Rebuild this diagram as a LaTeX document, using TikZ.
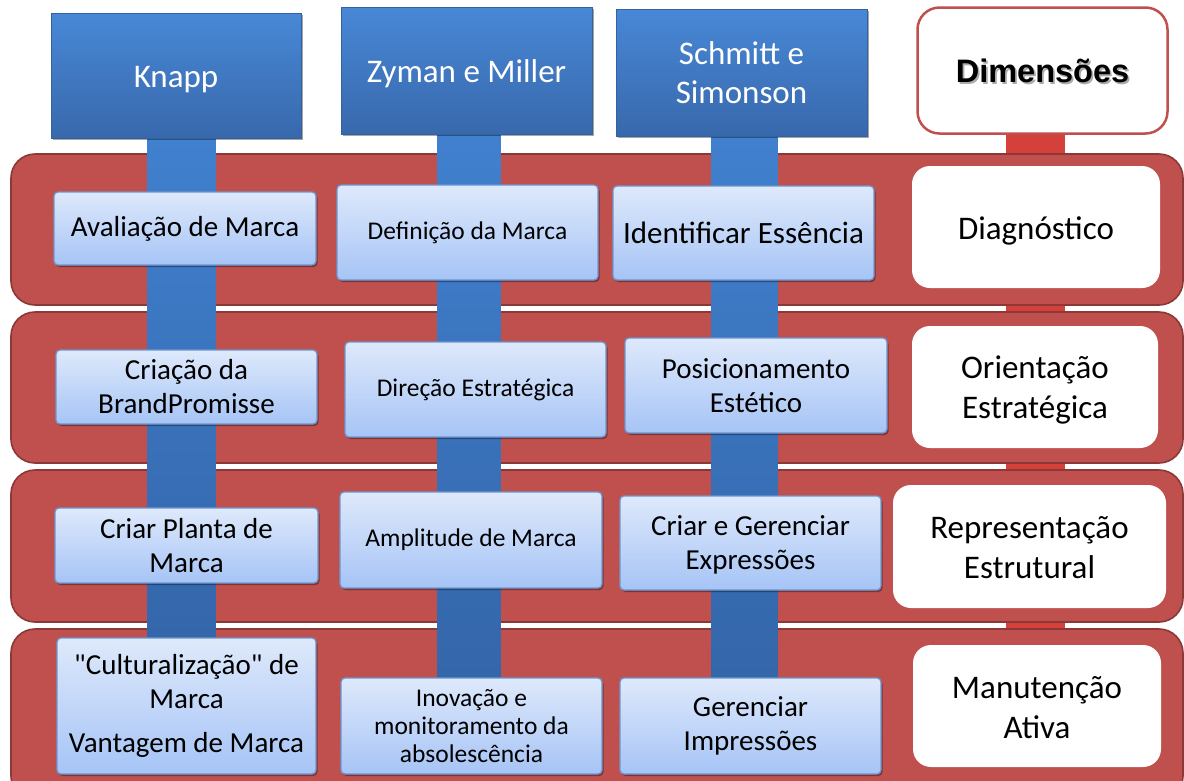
\documentclass[tikz,border=0pt]{standalone}
\usepackage{fontspec}
\setmainfont{Carlito}[Ligatures=TeXOff]
\newfontfamily\arialfont{Liberation Sans}
\usetikzlibrary{shadows,calc}
\newcommand\lowr[2]{\raisebox{-#1pt}[\height][\depth]{#2}}
\pgfdeclarelayer{redbarlayer}
\pgfdeclarelayer{bandlayer}
\pgfdeclarelayer{barlayer}
\pgfsetlayers{redbarlayer,bandlayer,barlayer,main}
\definecolor{bandred}{RGB}{192,80,77}
\definecolor{bandedge}{RGB}{140,56,54}
\definecolor{headtop}{RGB}{72,136,214}
\definecolor{headbot}{RGB}{56,104,172}
\definecolor{headedge}{RGB}{52,98,160}
\definecolor{bartop}{RGB}{64,128,206}
\definecolor{barbot}{RGB}{52,102,170}
\definecolor{lboxtop}{RGB}{222,233,251}
\definecolor{lboxbot}{RGB}{166,196,246}
\definecolor{lboxedge}{RGB}{110,150,208}
\definecolor{dimred}{RGB}{192,80,77}
\definecolor{redbarc}{RGB}{214,64,58}
\begin{document}
\begin{tikzpicture}[x=1pt,y=-1pt,
  header/.style={draw=headedge, line width=0.8pt, top color=headtop, bottom color=headbot,
    text=white, font=\fontsize{33}{39}\selectfont, align=center, inner sep=0pt,
    drop shadow={shadow xshift=2pt, shadow yshift=-2pt, opacity=0.35, fill=black}},
  lbox/.style={draw=lboxedge, line width=1.3pt, rounded corners=4pt, top color=lboxtop,
    bottom color=lboxbot, align=center, inner sep=0pt, text=black,
    drop shadow={shadow xshift=1.5pt, shadow yshift=-2pt, opacity=0.35, fill=black}},
  bigt/.style={font=\fontsize{29}{34}\selectfont},
  smallt/.style={font=\fontsize{25.5}{28}\selectfont},
  dbox/.style={fill=white, rounded corners=18pt, align=center, inner sep=0pt,
    font=\fontsize{33}{40}\selectfont},
  band/.style={draw=bandedge, line width=1.6pt, fill=bandred, rounded corners=24pt, inner sep=0pt},
  bluebar/.style={top color=bartop, bottom color=barbot},
]
\useasboundingbox (0,0) rectangle (1184,780);
\begin{pgfonlayer}{redbarlayer}
  \fill[white] (0,0) rectangle (1184,780);
\end{pgfonlayer}

% headers
\node[header, minimum width=250pt, minimum height=125pt] (knapp) at (176,75.5) {\lowr{4}{Knapp}};
\node[header, minimum width=251pt, minimum height=127pt] (zyman) at (466.5,70.5) {\lowr{3}{Zyman e Miller}};
\node[header, minimum width=251pt, minimum height=127pt] (schmitt) at (741.5,72.5) {Schmitt e\\Simonson};
\node[draw=dimred, line width=2.5pt, fill=white, rounded corners=22pt, minimum width=250pt,
  minimum height=126pt, inner sep=0pt] (dim) at (1042.5,70.5) {};
\node[text=black!55, opacity=0.6, font=\arialfont\bfseries\fontsize{32.5}{38}\selectfont]
  (dimshadow) at ($(dim.center)+(1.8,2.2)$) {Dimensões};
\node[text=black, font=\arialfont\bfseries\fontsize{32.5}{38}\selectfont]
  (dimtext) at (dim.center) {Dimensões};

% bands
\begin{pgfonlayer}{bandlayer}
  \node[band, minimum width=1172pt, minimum height=151pt] (band1) at (597,229.5) {};
  \node[band, minimum width=1172pt, minimum height=151pt] (band2) at (597,387.5) {};
  \node[band, minimum width=1172pt, minimum height=152pt] (band3) at (597,546) {};
  \node[band, minimum width=1172pt, minimum height=171pt] (band4) at (597,714.5) {};
\end{pgfonlayer}

% Knapp column
\node[lbox, bigt, minimum width=262pt, minimum height=73pt] (k1) at (185,228.5) {Avaliação de Marca};
\node[lbox, bigt, minimum width=261pt, minimum height=74pt] (k2) at (186.5,387) {Criação da\\BrandPromisse};
\node[lbox, bigt, minimum width=263pt, minimum height=75pt] (k3) at (186.5,545.5) {Criar Planta de\\Marca};
\node[lbox, bigt, minimum width=259pt, minimum height=136pt] (k4) at (186.5,706) {"Culturalização" de\\Marca\\[10pt]Vantagem de Marca};

% Zyman column
\node[lbox, smallt, minimum width=261pt, minimum height=95pt] (z1) at (467.5,232.5) {Definição da Marca};
\node[lbox, smallt, minimum width=261pt, minimum height=95pt] (z2) at (475.5,389.5) {Direção Estratégica};
\node[lbox, smallt, minimum width=262pt, minimum height=96pt] (z3) at (471,540) {Amplitude de Marca};
\node[lbox, smallt, minimum width=261pt, minimum height=96pt] (z4) at (471.5,726) {Inovação e\\monitoramento da\\absolescência};

% Schmitt column
\node[lbox, font=\fontsize{31}{36}\selectfont, minimum width=261pt, minimum height=94pt] (s1) at (743.5,233) {Identificar Essência};
\node[lbox, bigt, minimum width=262pt, minimum height=95pt] (s2) at (756,385.5) {Posicionamento\\Estético};
\node[lbox, bigt, minimum width=261pt, minimum height=94pt] (s3) at (750.5,543) {\lowr{2}{Criar e Gerenciar}\\\lowr{2}{Expressões}};
\node[lbox, bigt, minimum width=261pt, minimum height=96pt] (s4) at (750.5,726) {Gerenciar\\Impressões};

% Dimension boxes
\node[dbox, minimum width=248pt, minimum height=122pt] (d1) at (1036,227) {\lowr{4}{Diagnóstico}};
\node[dbox, minimum width=246pt, minimum height=122pt] (d2) at (1035,387) {\lowr{3}{Orientação}\\\lowr{3}{Estratégica}};
\node[dbox, minimum width=273pt, minimum height=123pt] (d3) at (1029.5,546.5) {\lowr{1}{Representação}\\\lowr{1}{Estrutural}};
\node[dbox, minimum width=248pt, minimum height=122pt] (d4) at (1037,706) {\lowr{2}{Manutenção}\\\lowr{2}{Ativa}};

% vertical bars
\begin{pgfonlayer}{barlayer}
  \fill[bluebar] ($(knapp.south)+(-29,0)$) rectangle ($(k4.north)+(29,0)$);
  \fill[bluebar] ($(zyman.south)+(-29,0)$) rectangle ($(z4.north)+(29,0)$);
  \fill[bluebar] ($(schmitt.south)+(-30,0)$) rectangle ($(s4.north)+(27,0)$);
\end{pgfonlayer}
\begin{pgfonlayer}{redbarlayer}
  \fill[redbarc] ($(dim.south)+(-36.5,0)$) rectangle ($(d4.north)+(28,0)$);
\end{pgfonlayer}
\end{tikzpicture}
\end{document}
